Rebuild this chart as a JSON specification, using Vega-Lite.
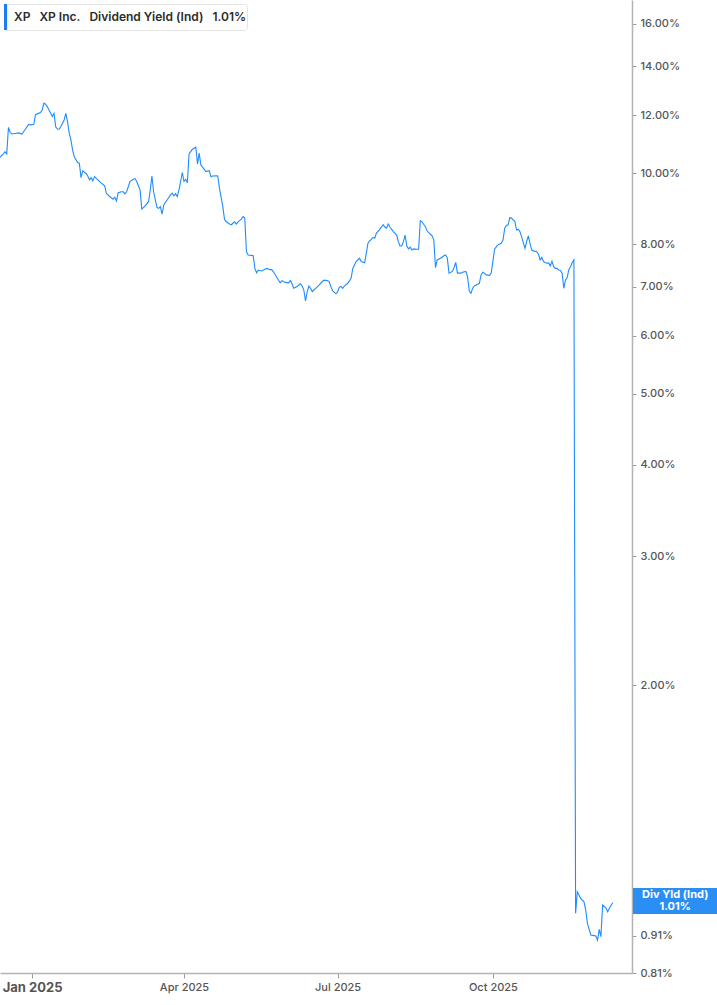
{
  "$schema": "https://vega.github.io/schema/vega-lite/v6.json",
  "width": 632,
  "height": 973,
  "autosize": {"type": "none"},
  "padding": {"left": 0, "top": 0, "right": 85, "bottom": 32},
  "background": "#ffffff",
  "config": {
    "view": {"stroke": null},
    "font": "Inter",
    "axis": {"grid": false, "title": null, "domainColor": "#b3b3b3", "domainWidth": 1.5, "tickColor": "#9a9a9a", "labelColor": "#555555", "labelFont": "Inter"}
  },
  "layer": [
    {
      "data": {
        "values": [
          {"date": "2024-12-13", "yield": 10.52}, {"date": "2024-12-15", "yield": 10.63}, {"date": "2024-12-16", "yield": 10.71},
          {"date": "2024-12-17", "yield": 10.63}, {"date": "2024-12-18", "yield": 11.56}, {"date": "2024-12-19", "yield": 11.38},
          {"date": "2024-12-20", "yield": 11.32}, {"date": "2024-12-22", "yield": 11.34}, {"date": "2024-12-24", "yield": 11.36},
          {"date": "2024-12-26", "yield": 11.32}, {"date": "2024-12-28", "yield": 11.49}, {"date": "2024-12-30", "yield": 11.67},
          {"date": "2024-12-31", "yield": 11.65}, {"date": "2025-01-02", "yield": 11.67}, {"date": "2025-01-03", "yield": 12.02},
          {"date": "2025-01-04", "yield": 12.06}, {"date": "2025-01-06", "yield": 12.11}, {"date": "2025-01-07", "yield": 12.21},
          {"date": "2025-01-08", "yield": 12.47}, {"date": "2025-01-09", "yield": 12.43}, {"date": "2025-01-10", "yield": 12.34},
          {"date": "2025-01-12", "yield": 12.08}, {"date": "2025-01-13", "yield": 11.96}, {"date": "2025-01-14", "yield": 12.08},
          {"date": "2025-01-15", "yield": 11.58}, {"date": "2025-01-16", "yield": 11.50}, {"date": "2025-01-17", "yield": 11.49},
          {"date": "2025-01-18", "yield": 11.58}, {"date": "2025-01-20", "yield": 11.83}, {"date": "2025-01-21", "yield": 12.08},
          {"date": "2025-01-22", "yield": 11.77}, {"date": "2025-01-23", "yield": 11.35}, {"date": "2025-01-24", "yield": 11.11},
          {"date": "2025-01-25", "yield": 10.77}, {"date": "2025-01-26", "yield": 10.54}, {"date": "2025-01-28", "yield": 10.35},
          {"date": "2025-01-29", "yield": 10.33}, {"date": "2025-01-30", "yield": 9.87}, {"date": "2025-01-31", "yield": 10.08},
          {"date": "2025-02-02", "yield": 10.00}, {"date": "2025-02-03", "yield": 9.92}, {"date": "2025-02-04", "yield": 9.80},
          {"date": "2025-02-05", "yield": 9.87}, {"date": "2025-02-06", "yield": 9.77}, {"date": "2025-02-07", "yield": 9.90},
          {"date": "2025-02-09", "yield": 9.80}, {"date": "2025-02-11", "yield": 9.70}, {"date": "2025-02-13", "yield": 9.62},
          {"date": "2025-02-14", "yield": 9.40}, {"date": "2025-02-16", "yield": 9.30}, {"date": "2025-02-18", "yield": 9.22},
          {"date": "2025-02-19", "yield": 9.28}, {"date": "2025-02-20", "yield": 9.17}, {"date": "2025-02-21", "yield": 9.41},
          {"date": "2025-02-23", "yield": 9.44}, {"date": "2025-02-24", "yield": 9.44}, {"date": "2025-02-25", "yield": 9.38},
          {"date": "2025-02-26", "yield": 9.44}, {"date": "2025-02-28", "yield": 9.75}, {"date": "2025-03-02", "yield": 9.82},
          {"date": "2025-03-03", "yield": 9.84}, {"date": "2025-03-04", "yield": 9.75}, {"date": "2025-03-06", "yield": 9.49},
          {"date": "2025-03-07", "yield": 8.94}, {"date": "2025-03-09", "yield": 9.03}, {"date": "2025-03-11", "yield": 9.15},
          {"date": "2025-03-12", "yield": 9.49}, {"date": "2025-03-13", "yield": 9.92}, {"date": "2025-03-14", "yield": 9.44},
          {"date": "2025-03-15", "yield": 9.20}, {"date": "2025-03-16", "yield": 8.99}, {"date": "2025-03-17", "yield": 8.96},
          {"date": "2025-03-18", "yield": 9.01}, {"date": "2025-03-19", "yield": 8.80}, {"date": "2025-03-20", "yield": 9.06},
          {"date": "2025-03-22", "yield": 9.20}, {"date": "2025-03-24", "yield": 9.35}, {"date": "2025-03-25", "yield": 9.40},
          {"date": "2025-03-26", "yield": 9.32}, {"date": "2025-03-27", "yield": 9.38}, {"date": "2025-03-28", "yield": 9.30},
          {"date": "2025-03-29", "yield": 9.49}, {"date": "2025-03-30", "yield": 9.75}, {"date": "2025-03-31", "yield": 10.03},
          {"date": "2025-04-01", "yield": 9.75}, {"date": "2025-04-02", "yield": 9.82}, {"date": "2025-04-03", "yield": 9.71},
          {"date": "2025-04-04", "yield": 10.63}, {"date": "2025-04-05", "yield": 10.71}, {"date": "2025-04-06", "yield": 10.79},
          {"date": "2025-04-08", "yield": 10.86}, {"date": "2025-04-09", "yield": 10.30}, {"date": "2025-04-10", "yield": 10.66},
          {"date": "2025-04-11", "yield": 10.27}, {"date": "2025-04-12", "yield": 10.20}, {"date": "2025-04-13", "yield": 10.13},
          {"date": "2025-04-14", "yield": 10.06}, {"date": "2025-04-16", "yield": 10.09}, {"date": "2025-04-17", "yield": 9.90},
          {"date": "2025-04-18", "yield": 9.92}, {"date": "2025-04-20", "yield": 9.93}, {"date": "2025-04-21", "yield": 9.92},
          {"date": "2025-04-22", "yield": 9.55}, {"date": "2025-04-24", "yield": 9.01}, {"date": "2025-04-25", "yield": 8.66},
          {"date": "2025-04-26", "yield": 8.59}, {"date": "2025-04-28", "yield": 8.53}, {"date": "2025-04-29", "yield": 8.51},
          {"date": "2025-04-30", "yield": 8.55}, {"date": "2025-05-01", "yield": 8.59}, {"date": "2025-05-02", "yield": 8.53},
          {"date": "2025-05-03", "yield": 8.59}, {"date": "2025-05-05", "yield": 8.66}, {"date": "2025-05-06", "yield": 8.73},
          {"date": "2025-05-07", "yield": 8.69}, {"date": "2025-05-08", "yield": 7.82}, {"date": "2025-05-09", "yield": 7.74},
          {"date": "2025-05-11", "yield": 7.73}, {"date": "2025-05-12", "yield": 7.72}, {"date": "2025-05-13", "yield": 7.42},
          {"date": "2025-05-14", "yield": 7.32}, {"date": "2025-05-15", "yield": 7.38}, {"date": "2025-05-17", "yield": 7.36},
          {"date": "2025-05-19", "yield": 7.40}, {"date": "2025-05-20", "yield": 7.42}, {"date": "2025-05-22", "yield": 7.39},
          {"date": "2025-05-23", "yield": 7.39}, {"date": "2025-05-25", "yield": 7.28}, {"date": "2025-05-27", "yield": 7.15},
          {"date": "2025-05-28", "yield": 7.09}, {"date": "2025-05-29", "yield": 7.14}, {"date": "2025-05-31", "yield": 7.10},
          {"date": "2025-06-02", "yield": 7.09}, {"date": "2025-06-03", "yield": 7.14}, {"date": "2025-06-04", "yield": 7.07},
          {"date": "2025-06-05", "yield": 6.97}, {"date": "2025-06-07", "yield": 7.01}, {"date": "2025-06-09", "yield": 7.07},
          {"date": "2025-06-10", "yield": 7.02}, {"date": "2025-06-11", "yield": 6.93}, {"date": "2025-06-12", "yield": 6.70},
          {"date": "2025-06-13", "yield": 6.89}, {"date": "2025-06-14", "yield": 7.02}, {"date": "2025-06-15", "yield": 6.97},
          {"date": "2025-06-16", "yield": 6.90}, {"date": "2025-06-18", "yield": 6.97}, {"date": "2025-06-20", "yield": 7.04},
          {"date": "2025-06-22", "yield": 7.12}, {"date": "2025-06-23", "yield": 7.15}, {"date": "2025-06-25", "yield": 7.14},
          {"date": "2025-06-26", "yield": 7.12}, {"date": "2025-06-27", "yield": 7.01}, {"date": "2025-06-28", "yield": 6.92},
          {"date": "2025-06-30", "yield": 6.85}, {"date": "2025-07-01", "yield": 6.89}, {"date": "2025-07-02", "yield": 6.99},
          {"date": "2025-07-03", "yield": 7.01}, {"date": "2025-07-04", "yield": 6.97}, {"date": "2025-07-05", "yield": 7.02},
          {"date": "2025-07-07", "yield": 7.08}, {"date": "2025-07-09", "yield": 7.19}, {"date": "2025-07-10", "yield": 7.42},
          {"date": "2025-07-12", "yield": 7.58}, {"date": "2025-07-14", "yield": 7.66}, {"date": "2025-07-15", "yield": 7.58},
          {"date": "2025-07-17", "yield": 7.55}, {"date": "2025-07-18", "yield": 7.78}, {"date": "2025-07-19", "yield": 8.03},
          {"date": "2025-07-20", "yield": 8.09}, {"date": "2025-07-21", "yield": 8.13}, {"date": "2025-07-22", "yield": 8.18},
          {"date": "2025-07-23", "yield": 8.16}, {"date": "2025-07-24", "yield": 8.29}, {"date": "2025-07-26", "yield": 8.39},
          {"date": "2025-07-28", "yield": 8.51}, {"date": "2025-07-29", "yield": 8.45}, {"date": "2025-07-30", "yield": 8.42},
          {"date": "2025-07-31", "yield": 8.53}, {"date": "2025-08-01", "yield": 8.45}, {"date": "2025-08-03", "yield": 8.33},
          {"date": "2025-08-05", "yield": 8.24}, {"date": "2025-08-06", "yield": 8.07}, {"date": "2025-08-07", "yield": 7.96},
          {"date": "2025-08-08", "yield": 7.96}, {"date": "2025-08-09", "yield": 8.07}, {"date": "2025-08-10", "yield": 8.24},
          {"date": "2025-08-11", "yield": 7.96}, {"date": "2025-08-12", "yield": 7.89}, {"date": "2025-08-13", "yield": 7.93},
          {"date": "2025-08-14", "yield": 7.86}, {"date": "2025-08-15", "yield": 7.89}, {"date": "2025-08-17", "yield": 7.88},
          {"date": "2025-08-18", "yield": 7.88}, {"date": "2025-08-19", "yield": 8.62}, {"date": "2025-08-20", "yield": 8.59},
          {"date": "2025-08-22", "yield": 8.46}, {"date": "2025-08-23", "yield": 8.35}, {"date": "2025-08-25", "yield": 8.26},
          {"date": "2025-08-26", "yield": 8.22}, {"date": "2025-08-27", "yield": 8.11}, {"date": "2025-08-28", "yield": 7.44},
          {"date": "2025-08-29", "yield": 7.62}, {"date": "2025-08-31", "yield": 7.66}, {"date": "2025-09-02", "yield": 7.72},
          {"date": "2025-09-03", "yield": 7.74}, {"date": "2025-09-04", "yield": 7.67}, {"date": "2025-09-05", "yield": 7.31},
          {"date": "2025-09-07", "yield": 7.35}, {"date": "2025-09-08", "yield": 7.44}, {"date": "2025-09-09", "yield": 7.56},
          {"date": "2025-09-10", "yield": 7.31}, {"date": "2025-09-12", "yield": 7.31}, {"date": "2025-09-13", "yield": 7.33},
          {"date": "2025-09-15", "yield": 7.35}, {"date": "2025-09-16", "yield": 7.23}, {"date": "2025-09-17", "yield": 6.91},
          {"date": "2025-09-18", "yield": 6.86}, {"date": "2025-09-19", "yield": 6.97}, {"date": "2025-09-20", "yield": 7.02},
          {"date": "2025-09-22", "yield": 7.06}, {"date": "2025-09-23", "yield": 7.08}, {"date": "2025-09-24", "yield": 7.27},
          {"date": "2025-09-25", "yield": 7.33}, {"date": "2025-09-26", "yield": 7.31}, {"date": "2025-09-27", "yield": 7.27},
          {"date": "2025-09-29", "yield": 7.26}, {"date": "2025-09-30", "yield": 7.31}, {"date": "2025-10-01", "yield": 7.58},
          {"date": "2025-10-02", "yield": 7.88}, {"date": "2025-10-03", "yield": 7.94}, {"date": "2025-10-04", "yield": 7.99},
          {"date": "2025-10-06", "yield": 8.03}, {"date": "2025-10-07", "yield": 8.11}, {"date": "2025-10-08", "yield": 8.42},
          {"date": "2025-10-09", "yield": 8.49}, {"date": "2025-10-10", "yield": 8.51}, {"date": "2025-10-11", "yield": 8.70},
          {"date": "2025-10-12", "yield": 8.69}, {"date": "2025-10-13", "yield": 8.64}, {"date": "2025-10-14", "yield": 8.61},
          {"date": "2025-10-15", "yield": 8.37}, {"date": "2025-10-16", "yield": 8.39}, {"date": "2025-10-17", "yield": 8.33},
          {"date": "2025-10-18", "yield": 8.20}, {"date": "2025-10-20", "yield": 7.90}, {"date": "2025-10-21", "yield": 8.07},
          {"date": "2025-10-22", "yield": 8.22}, {"date": "2025-10-23", "yield": 8.03}, {"date": "2025-10-24", "yield": 7.86},
          {"date": "2025-10-25", "yield": 7.84}, {"date": "2025-10-27", "yield": 7.82}, {"date": "2025-10-28", "yield": 7.76},
          {"date": "2025-10-29", "yield": 7.62}, {"date": "2025-10-30", "yield": 7.68}, {"date": "2025-10-31", "yield": 7.58},
          {"date": "2025-11-01", "yield": 7.56}, {"date": "2025-11-02", "yield": 7.54}, {"date": "2025-11-03", "yield": 7.55},
          {"date": "2025-11-04", "yield": 7.48}, {"date": "2025-11-05", "yield": 7.59}, {"date": "2025-11-06", "yield": 7.46},
          {"date": "2025-11-07", "yield": 7.42}, {"date": "2025-11-08", "yield": 7.42}, {"date": "2025-11-09", "yield": 7.38},
          {"date": "2025-11-10", "yield": 7.37}, {"date": "2025-11-11", "yield": 7.31}, {"date": "2025-11-12", "yield": 6.97},
          {"date": "2025-11-13", "yield": 7.15}, {"date": "2025-11-14", "yield": 7.21}, {"date": "2025-11-15", "yield": 7.39},
          {"date": "2025-11-16", "yield": 7.46}, {"date": "2025-11-17", "yield": 7.56}, {"date": "2025-11-18", "yield": 7.62},
          {"date": "2025-11-19", "yield": 0.977}, {"date": "2025-11-20", "yield": 1.046}, {"date": "2025-11-21", "yield": 1.035},
          {"date": "2025-11-22", "yield": 1.024}, {"date": "2025-11-24", "yield": 1.013}, {"date": "2025-11-25", "yield": 0.987},
          {"date": "2025-11-26", "yield": 0.947}, {"date": "2025-11-28", "yield": 0.913}, {"date": "2025-11-30", "yield": 0.911},
          {"date": "2025-12-01", "yield": 0.910}, {"date": "2025-12-02", "yield": 0.898}, {"date": "2025-12-03", "yield": 0.929},
          {"date": "2025-12-04", "yield": 0.908}, {"date": "2025-12-05", "yield": 1.003}, {"date": "2025-12-07", "yield": 0.993},
          {"date": "2025-12-08", "yield": 0.982}, {"date": "2025-12-09", "yield": 0.993}, {"date": "2025-12-11", "yield": 1.010}
        ]
      },
      "mark": {"type": "line", "strokeWidth": 1.1},
      "encoding": {
        "x": {
          "field": "date", "type": "temporal",
          "scale": {"type": "utc", "domain": [{"year": 2024, "month": 12, "date": 13, "utc": true}, {"year": 2025, "month": 12, "date": 22, "hours": 10, "utc": true}]},
          "axis": {
            "values": [
              {"year": 2025, "month": 1, "date": 1, "utc": true}, {"year": 2025, "month": 4, "date": 1, "utc": true},
              {"year": 2025, "month": 7, "date": 1, "utc": true}, {"year": 2025, "month": 10, "date": 1, "utc": true}
            ],
            "labelExpr": "utcFormat(datum.value, '%b %Y')",
            "tickSize": 5, "labelPadding": 3,
            "labelFontSize": {"condition": {"test": "utcmonth(datum.value) == 0", "value": 13}, "value": 11},
            "labelFontWeight": {"condition": {"test": "utcmonth(datum.value) == 0", "value": "bold"}, "value": 500}
          }
        },
        "y": {
          "field": "yield", "type": "quantitative",
          "scale": {"type": "log", "domain": [0.81, 17.25], "nice": false, "zero": false},
          "axis": {
            "orient": "right",
            "values": [0.81, 0.91, 1.01, 2, 3, 4, 5, 6, 7, 8, 10, 12, 14, 16],
            "labelExpr": "format(datum.value, '.2f') + '%'",
            "tickSize": 4, "labelPadding": 4, "labelFontSize": 11, "labelFontWeight": 500
          }
        },
        "color": {
          "datum": "XP\u00a0\u00a0 XP Inc.\u00a0\u00a0 Dividend Yield (Ind)\u00a0\u00a0 1.01%\u00a0\u00a0\u00a0\u00a0\u00a0",
          "type": "nominal",
          "scale": {"range": ["#1e8cff"]},
          "legend": {
            "title": null, "orient": "top-left", "offset": 4, "padding": 0,
            "fillColor": "#ffffff", "strokeColor": "#e4e4e4", "cornerRadius": 3,
            "symbolType": "M-1,-1L-0.76,-1L-0.76,1L-1,1Z", "symbolSize": 676,
            "symbolFillColor": "#1e7cf2", "symbolStrokeWidth": 0, "symbolOpacity": 1,
            "labelOffset": -16, "labelFont": "Inter", "labelFontSize": 12, "labelFontWeight": 600,
            "labelColor": "#2b2b2b", "labelLimit": 400,
            "encode": {"symbols": {"update": {"fill": {"value": "#1e7cf2"}, "stroke": {"value": "transparent"}}}}
          }
        }
      }
    },
    {
      "data": {"values": [{"label": "Div Yld (Ind)"}]},
      "mark": {"type": "rect", "color": "#2b8ef5"},
      "encoding": {
        "x": {"datum": {"year": 2025, "month": 12, "date": 23, "utc": true}, "type": "temporal"},
        "x2": {"datum": {"year": 2026, "month": 2, "date": 11, "utc": true}},
        "y": {"datum": 0.975, "type": "quantitative"},
        "y2": {"datum": 1.058}
      }
    },
    {
      "data": {"values": [{"label": "Div Yld (Ind)", "last": 1.01}]},
      "mark": {"type": "text", "color": "#ffffff", "fontSize": 11, "fontWeight": "bold", "lineHeight": 12, "align": "center", "baseline": "middle"},
      "encoding": {
        "x": {"datum": {"year": 2026, "month": 1, "date": 17, "utc": true}, "type": "temporal"},
        "y": {"datum": 1.036, "type": "quantitative"},
        "text": {"value": ["Div Yld (Ind)", "1.01%"]}
      }
    }
  ]
}
